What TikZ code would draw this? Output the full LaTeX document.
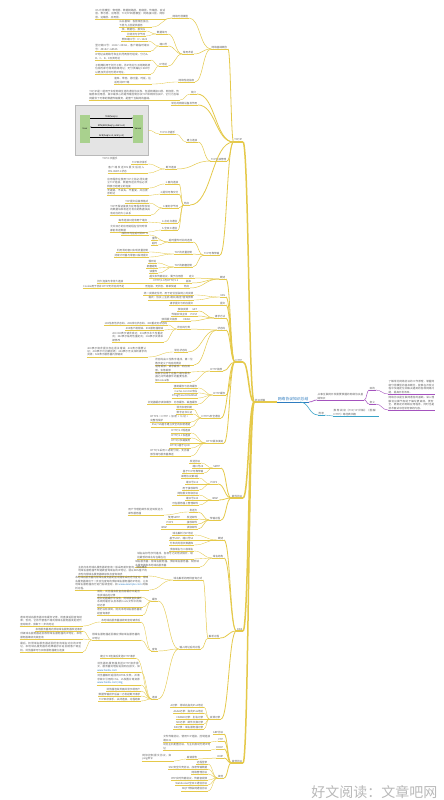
\documentclass[tikz,border=0pt]{standalone}
\usepackage{fontspec}
\setmainfont{Noto Sans CJK SC}
\XeTeXlinebreaklocale "zh"
\XeTeXlinebreakskip=0pt plus 1pt
\usetikzlibrary{arrows.meta,calc}
\definecolor{lemon}{HTML}{E5C94A}
\definecolor{plum}{HTML}{A553BE}
\definecolor{sky}{HTML}{3AA3C8}
\definecolor{core}{HTML}{2E7CC0}
\definecolor{ink}{HTML}{5E5E5E}
\definecolor{sheet}{HTML}{E4E4E4}
\definecolor{grass}{HTML}{A9D18E}
\newcommand{\lf}{\fontsize{2.6}{3.4}\selectfont}
\newcommand{\lnk}[1]{\textcolor{core}{#1}}

\begin{document}
\begin{tikzpicture}[x=1pt, y=-1pt, >={Stealth[length=1.2pt]},
  ul/.style 2 args={font=\lf, text=ink, inner sep=.5pt, anchor=south east, align=left,
    append after command={(\tikzlastnode.south west) edge[draw=#1, line width=#2pt] (\tikzlastnode.south east)}},
  tp/.style={ul={lemon}{.35}},
  lv4/.style={ul={lemon}{.5}},
  lv3/.style={ul={lemon}{.8}},
  lv2/.style={ul={lemon}{1.4}},
  tw/.style={text width=#1pt},
  br/.style={draw=lemon, line width=#1pt, to path={let \p1=(\tikztostart), \p2=(\tikztotarget) in
    .. controls ({(\x1+\x2)/2},\y1) and ({(\x1+\x2)/2},\y2) .. (\tikztotarget)}},
  br/.default=.35,
  pic/.style={fill=grass, minimum width=10pt, minimum height=28pt, inner sep=0pt, font=\fontsize{2.2}{2.6}\selectfont},
  msg/.style={above=-.3pt, inner sep=.4pt, font=\fontsize{2.3}{2.6}\selectfont}]
\useasboundingbox (0,0) rectangle (444,800);
\path[fill=white] (0,0) rectangle (444,800);

\node[ul={core}{.7}, font=\fontsize{3.8}{4.6}\selectfont, text=core] (hub) at (309,402) {网络协议知识总结};
\node[ul={plum}{.5}, anchor=south west, tw=46] (why) at (317,400) {从事互联网开发需要掌握的网络协议基础知识};
\node[ul={plum}{.45}, anchor=south west] (aim) at (369,390) {目的};
\node[ul={plum}{.45}, anchor=south west] (use) at (369,404) {意义};
\node[ul={plum}{.35}, anchor=south west, tw=46] (aimx) at (388,394) {了解常见网络协议的工作原理，掌握网络分层模型的基本概念，能够在开发过程中快速定位并解决遇到的各种网络问题，提高开发效率。};
\node[ul={plum}{.35}, anchor=south west, tw=46] (usex) at (388,410) {网络协议是互联网通信的基础，深入理解协议细节有助于编写更高效、更安全、更稳定的网络应用程序，同时也是技术面试中经常考察的内容。};
\node[ul={sky}{.45}, anchor=south west] (app) at (318,415) {附录};
\node[ul={sky}{.35}, anchor=south west, tw=45] (appx) at (333,416) {推荐阅读《TCP/IP详解》《图解HTTP》等经典书籍};
\draw[br=.7, draw=plum] (hub.south east) to (why.south west);
\draw[br=.5, draw=plum] (why.south east) to (aim.south west);
\draw[br=.5, draw=plum] (why.south east) to (use.south west);
\draw[br=.4, draw=plum] (aim.south east) to (aimx.south west);
\draw[br=.4, draw=plum] (use.south east) to (usex.south west);
\draw[br=.6, draw=sky] ([xshift=-9pt]hub.south east) to (app.south west);
\draw[br=.4, draw=sky] (app.south east) to (appx.south west);

\node[ul={lemon}{1.8}] (root) at (266,402) {协议详解};
\draw[br=1.8] (hub.south west) to (root.south east);
\node[lv2] (tcp) at (243,142) {TCP/IP};
\node[lv2] (http) at (243,362) {HTTP};
\node[lv2] (mail) at (243,498) {邮件协议};
\node[lv2] (dns) at (243,631) {DNS};
\node[lv2] (misc) at (243,763) {其他协议};
\foreach \c in {tcp,http,mail,dns,misc} \draw[br=1.5] (root.south west) to (\c.south east);

\node[lv3] (t1) at (228,49) {网络基础概念};
\node[lv3] (t2) at (197,94) {简介};
\node[lv3] (t3) at (198,105) {常见的网络设备及作用};
\node[lv3] (t4) at (227,161) {TCP连接管理};
\node[lv3] (t5) at (190,205) {特点};
\node[lv3] (t6) at (220,255) {TCP可靠传输};
\foreach \c in {t1,t2,t3,t4,t5,t6} \draw[br=.8] (tcp.south west) to (\c.south east);
\node[lv4] (t11) at (189,18) {网络分层模型};
\node[lv4] (t12) at (194,54) {常用术语};
\node[lv4] (t13) at (195,82) {网络性能指标};
\foreach \c in {t11,t12,t13} \draw[br=.5] (t1.south west) to (\c.south east);
\node[tp, tw=70] (t11a) at (166,19) {OSI七层模型：物理层、数据链路层、网络层、传输层、会话层、表示层、应用层；TCP/IP四层模型：网络接口层、网际层、运输层、应用层。};
\node[tp, tw=32] (t11b) at (152,27) {从业基础：各层相互独立，下层为上层提供服务};
\foreach \c in {t11a,t11b} \draw[br] (t11.south west) to (\c.south east);
\node[lv4] (t121) at (168,34) {数据单元};
\node[lv4] (t122) at (168,46) {端口号};
\node[lv4] (t123) at (168,66) {IP地址};
\foreach \c in {t121,t122,t123} \draw[br=.45] (t12.south west) to (\c.south east);
\node[tp] (t121a) at (146,31) {帧、数据包、报文段};
\node[tp] (t121b) at (146,36) {比特流与字节流};
\foreach \c in {t121a,t121b} \draw[br] (t121.south west) to (\c.south east);
\node[tp] (t122a) at (148,41) {熟知端口号：0～1023};
\node[tp, tw=55] (t122b) at (151,51) {登记端口号：1024～49151，客户端临时端口号：49152～65535};
\foreach \c in {t122a,t122b} \draw[br] (t122.south west) to (\c.south east);
\node[tp, tw=55] (t123a) at (151,60) {IP地址由网络号和主机号两部分组成，分为A、B、C、D、E五类地址};
\node[tp, tw=55] (t123b) at (151,74) {子网掩码用于划分子网，将IP地址与子网掩码按位相与即可得到网络地址；无分类编址CIDR可以更加灵活地分配IP地址。};
\foreach \c in {t123a,t123b} \draw[br] (t123.south west) to (\c.south east);
\node[tp, tw=37] (t13a) at (152,84) {速率、带宽、吞吐量、时延、往返时间RTT等};
\draw[br] (t13.south west) to (t13a.south east);
\node[tp, tw=90] (t2a) at (180,100) {TCP/IP是一组用于实现网络互连的通信协议族，包括网络接口层、网际层、传输层和应用层，其中最核心的是传输控制协议TCP和网际协议IP，它们为互联网提供了可靠的数据传输服务，是整个互联网的基础。};
\draw[br] (t2.south west) to (t2a.south east);

\node[lv4] (t41) at (198,142) {建立连接};
\node[lv4] (t42) at (177,169) {断开连接};
\foreach \c in {t41,t42} \draw[br=.5] (t4.south west) to (\c.south east);
\node[tp] (t41a) at (176,134) {TCP三次握手};
\draw[br] (t41.south west) to (t41a.south east);
\node[tp] (t42a) at (148,164) {TCP四次挥手};
\node[tp, tw=39] (t42b) at (148,173) {客户端发送FIN报文后进入FIN-WAIT-1状态};
\foreach \c in {t42a,t42b} \draw[br] (t42.south west) to (\c.south east);
\node[draw=gray!55, fill=sheet, minimum width=73pt, minimum height=50pt, inner sep=0pt, anchor=north west] (fig) at (75,105) {};
\node[pic] (usr) at (85,129) {User};
\node[pic] (srv) at (138,129) {Server};
\draw[->, line width=.3pt] ($(usr.east)+(0,-11)$) -- node[msg] (syn) {SYN(Seq=x)} ($(srv.west)+(0,-11)$);
\draw[->, line width=.3pt] ($(srv.west)+(0,-2)$) -- node[msg] (sack) {SYN/ACK(Seq=y, Ack=x+1)} ($(usr.east)+(0,-2)$);
\draw[->, line width=.3pt] ($(usr.east)+(0,8)$) -- node[msg] (ack) {ACK(Seq=x+1, Ack=y+1)} ($(srv.west)+(0,8)$);
\node[font=\lf, text=ink] (cap) at (110,158.5) {TCP三次握手};
\draw[br] (t41a.south west) to (fig.east);

\node[lv4] (t51) at (179,184) {1.面向连接};
\node[lv4] (t52) at (179,194) {2.提供可靠交付};
\node[lv4] (t53) at (179,208) {3.面向字节流};
\node[lv4] (t54) at (178,223) {4.点对点通信};
\node[lv4] (t55) at (178,230) {5.全双工通信};
\foreach \c in {t51,t52,t53,t54,t55} \draw[br=.5] (t5.south west) to (\c.south east);
\node[tp, tw=41] (t51a) at (149,188) {应用程序在使用TCP之前必须先建立TCP连接，数据传送完毕后必须释放已经建立的连接};
\draw[br] (t51.south west) to (t51a.south east);
\node[tp, tw=41] (t52a) at (149,195.5) {无差错、不丢失、不重复，并且按序到达};
\draw[br] (t52.south west) to (t52a.south east);
\node[tp] (t53a) at (149,203) {TCP报文段首部格式};
\node[tp, tw=40] (t53b) at (151,215) {TCP不保证接收方应用程序所收到的数据块和发送方发出的数据块具有对应的大小关系};
\foreach \c in {t53a,t53b} \draw[br] (t53.south west) to (\c.south east);
\node[tp] (t54a) at (148,222) {每条连接只能有两个端点};
\draw[br] (t54.south west) to (t54a.south east);
\node[tp, tw=37] (t55a) at (148,232) {允许双方的应用进程在任何时候都能发送数据};
\draw[br] (t55.south west) to (t55a.south east);

\node[lv4] (t61) at (193,242) {超时重传时间的选择};
\node[lv4] (t62) at (193,254) {TCP的流量控制};
\node[lv4] (t63) at (193,267) {TCP的拥塞控制};
\foreach \c in {t61,t62,t63} \draw[br=.5] (t6.south west) to (\c.south east);
\node[tp] (t61a) at (149,235) {加权平均往返时间RTTs};
\node[tp] (t61b) at (158,240) {重传};
\node[tp] (t61c) at (158,245) {超时};
\foreach \c in {t61a,t61b,t61c} \draw[br] (t61.south west) to (\c.south east);
\node[tp] (t62a) at (149,252) {利用滑动窗口实现流量控制};
\node[tp] (t62b) at (149,257) {持续计时器与零窗口探测报文};
\foreach \c in {t62a,t62b} \draw[br] (t62.south west) to (\c.south east);
\node[tp] (t63a) at (157,263) {慢开始};
\node[tp] (t63b) at (158,268) {拥塞避免};
\node[tp] (t63c) at (158,273) {快重传};
\foreach \c in {t63a,t63b,t63c} \draw[br] (t63.south west) to (\c.south east);

\node[lv3] (h1) at (226,279) {概述};
\node[lv3] (h2) at (226,297) {URL};
\node[lv3] (h3) at (226,305) {报文};
\node[lv3] (h4) at (226,318) {请求方法};
\node[lv3] (h5) at (226,330) {状态码};
\node[lv3] (h6) at (223,371) {HTTP首部};
\node[lv3] (h7) at (226,395) {HTTP缓存};
\node[lv3] (h8) at (221,418) {HTTPS安全通信};
\node[lv3] (h9) at (224,443) {HTTP版本演进};
\foreach \c in {h1,h2,h3,h4,h5,h6,h7,h8,h9} \draw[br=.8] (http.south west) to (\c.south east);
\node[lv4] (h11) at (195,278) {定义};
\node[lv4] (h12) at (192,283) {版本};
\node[lv4] (h13) at (190,288) {特点};
\foreach \c in {h11,h12,h13} \draw[br=.5] (h1.south west) to (\c.south east);
\node[tp] (h11a) at (184,278) {超文本传输协议，属于应用层};
\draw[br] (h11.south west) to (h11a.south east);
\node[tp] (h12a) at (179,283) {HTTP/1.0与HTTP/1.1};
\node[tp] (h12b) at (124,283) {持久连接与非持久连接};
\draw[br] (h12.south west) to (h12a.south east);
\draw[br] (h12a.south west) to (h12b.south east);
\node[tp] (h13a) at (177,288) {无连接、无状态、简单快速};
\node[tp] (h13b) at (125,288) {Cookie用于弥补HTTP无状态的不足};
\draw[br] (h13.south west) to (h13a.south east);
\draw[br] (h13a.south west) to (h13b.south east);
\node[tp] (h21) at (194,295) {统一资源定位符，用于定位互联网上的资源};
\node[tp] (h22) at (194,300) {格式：协议://主机:端口/路径?查询参数};
\foreach \c in {h21,h22} \draw[br] (h2.south west) to (\c.south east);
\node[tp] (h31) at (194,305) {请求报文与响应报文};
\draw[br] (h3.south west) to (h31.south east);
\node[lv4] (h41) at (198,311) {GET};
\node[lv4] (h42) at (198,316) {POST};
\node[lv4] (h43) at (191,321) {HEAD};
\foreach \c in {h41,h42,h43} \draw[br=.5] (h4.south west) to (\c.south east);
\node[tp] (h41a) at (189,311) {获取资源};
\node[tp] (h42a) at (188,316) {传输实体主体};
\node[tp] (h43a) at (178,321) {获得报文首部};
\draw[br] (h41.south west) to (h41a.south east);
\draw[br] (h42.south west) to (h42a.south east);
\draw[br] (h43.south west) to (h43a.south east);
\node[lv4] (h51) at (191,329) {状态码分类};
\node[lv4] (h52) at (188,352) {常见状态码};
\node[tp, tw=38] (h53) at (194,365) {状态码由三位数字组成，第一位数字定义了响应的类别};
\foreach \c in {h51,h52,h53} \draw[br=.5] (h5.south west) to (\c.south east);
\node[tp] (h51a) at (168,325) {1XX信息性状态码、2XX成功状态码、3XX重定向状态码};
\node[tp] (h51b) at (164,330) {4XX客户端错误、5XX服务器错误};
\node[tp, tw=51] (h51c) at (164,342) {200 OK表示请求成功；301表示永久性重定向；302表示临时性重定向；304表示资源未被修改};
\foreach \c in {h51a,h51b,h51c} \draw[br] (h51.south west) to (\c.south east);
\node[tp, tw=60] (h52a) at (148,357) {400表示请求报文存在语法错误；401表示需要认证；403表示访问被拒绝；404表示无法找到请求的资源；500表示服务器内部错误};
\draw[br] (h52.south west) to (h52a.south east);
\node[tp, tw=35] (h61) at (191,372) {通用首部、请求首部、响应首部、实体首部};
\node[tp, tw=35] (h62) at (191,382) {首部字段用于在客户端与服务器之间传递额外的重要信息，如Cookie等};
\foreach \c in {h61,h62} \draw[br] (h6.south west) to (\c.south east);
\node[tp] (h71) at (198,388) {强制缓存与协商缓存};
\node[tp] (h72) at (198,393) {Cache-Control字段};
\node[tp] (h73) at (198,398) {ETag与Last-Modified};
\node[tp] (h74) at (198,404) {浏览器缓存读取顺序：内存缓存、磁盘缓存};
\foreach \c in {h71,h72,h73,h74} \draw[br] (h7.south west) to (\c.south east);
\node[tp] (h81) at (193,409) {混合加密机制};
\node[tp] (h82) at (193,414) {数字证书认证};
\node[tp, tw=40] (h83) at (191,422) {HTTPS = HTTP + 加密 + 认证 + 完整性保护};
\node[tp] (h84) at (191,427) {SSL/TLS握手建立安全的加密通道};
\foreach \c in {h81,h82,h83,h84} \draw[br] (h8.south west) to (\c.south east);
\node[tp] (h91) at (191,433) {HTTP/1.0短连接};
\node[tp] (h92) at (191,438) {HTTP/1.1长连接};
\node[tp] (h93) at (191,443) {HTTP/2多路复用};
\node[tp] (h94) at (191,448) {HTTP/3基于QUIC};
\node[tp, tw=40] (h95) at (191,456) {HTTP/2采用二进制分帧，支持首部压缩与服务器推送};
\foreach \c in {h91,h92,h93,h94,h95} \draw[br] (h9.south west) to (\c.south east);

\node[lv3] (m1) at (221,468) {SMTP};
\node[lv3] (m2) at (218,484) {POP3};
\node[lv3] (m3) at (219,500) {IMAP};
\node[lv3] (m4) at (221,520) {传输过程};
\foreach \c in {m1,m2,m3,m4} \draw[br=.8] (mail.south west) to (\c.south east);
\node[tp] (m11) at (201,463) {发送协议};
\node[tp] (m12) at (204,468) {端口号25};
\node[tp] (m13) at (204,473) {基于TCP可靠传输};
\foreach \c in {m11,m12,m13} \draw[br] (m1.south west) to (\c.south east);
\node[tp] (m21) at (199,478) {邮局协议第3版};
\node[tp] (m22) at (199,484) {端口号110};
\node[tp] (m23) at (199,490) {用于接收邮件};
\foreach \c in {m21,m22,m23} \draw[br] (m2.south west) to (\c.south east);
\node[tp] (m31) at (199,495) {网际报文存取协议};
\node[tp] (m32) at (199,500) {端口号143};
\node[tp] (m33) at (199,505) {可在服务器上管理邮件};
\foreach \c in {m31,m32,m33} \draw[br] (m3.south west) to (\c.south east);
\node[lv4] (m41) at (198,512) {发送方};
\node[lv4] (m42) at (198,519) {发送邮件};
\node[lv4] (m43) at (198,524) {接收邮件};
\node[lv4] (m44) at (198,529) {读取邮件};
\foreach \c in {m41,m42,m43,m44} \draw[br=.5] (m4.south west) to (\c.south east);
\node[tp, tw=35] (m41a) at (164,515) {用户代理把邮件发送到发送方邮件服务器};
\node[tp] (m42a) at (181,519) {使用SMTP};
\node[tp] (m43a) at (174,524) {POP3};
\node[tp] (m44a) at (168,529) {IMAP};
\draw[br] (m41.south west) to (m41a.south east);
\draw[br] (m42.south west) to (m42a.south east);
\draw[br] (m43.south west) to (m43a.south east);
\draw[br] (m44.south west) to (m44a.south east);

\node[lv3] (d1) at (224,540) {概述};
\node[lv3] (d2) at (224,558) {域名结构};
\node[lv3] (d3) at (220,638) {解析过程};
\node[lv3] (d4) at (221,719) {资源记录};
\foreach \c in {d1,d2,d3,d4} \draw[br=.8] (dns.south west) to (\c.south east);
\node[tp] (d11) at (194,535) {域名解析为IP地址};
\node[tp] (d12) at (194,540) {基于UDP，端口号53};
\node[tp] (d13) at (194,545) {分布式的层次数据库};
\foreach \c in {d11,d12,d13} \draw[br] (d1.south west) to (\c.south east);
\node[tp] (d21) at (194,551) {顶级域名与二级域名};
\node[tp, tw=56] (d22) at (194,559) {域名由标号序列组成，各标号之间用点隔开，级别最低的域名写在最左边};
\node[tp, tw=64] (d23) at (200,567) {域名服务器：根域名服务器、顶级域名服务器、权限域名服务器和本地域名服务器};
\foreach \c in {d21,d22,d23} \draw[br] (d2.south west) to (\c.south east);
\node[lv4] (d31) at (203,580) {域名解析的两种查询方式};
\node[lv4] (d32) at (201,649) {输入网址后的过程};
\foreach \c in {d31,d32} \draw[br=.5] (d3.south west) to (\c.south east);
\node[tp, tw=69] (d31a) at (148,576) {主机向本地域名服务器的查询一般采用递归查询，即如果本地域名服务器不知道被查询域名的IP地址，就以DNS客户的身份向根域名服务器继续发出查询请求};
\node[tp, tw=73] (d31b) at (149,590) {本地域名服务器向根域名服务器的查询通常采用迭代查询，根域名服务器给出下一步应当查询的顶级域名服务器的IP地址，让本地域名服务器自行进行后续查询，如 \lnk{www.example.com} 的解析过程。};
\foreach \c in {d31a,d31b} \draw[br] (d31.south west) to (\c.south east);
\node[lv4] (d321) at (158,601) {缓存};
\node[lv4] (d322) at (158,651) {查询};
\node[lv4] (d323) at (158,699) {连接};
\foreach \c in {d321,d322,d323} \draw[br=.45] (d32.south west) to (\c.south east);
\node[tp, tw=43] (d321a) at (141,597) {首先，浏览器会检查自身缓存中是否有该域名的记录};
\node[tp, tw=45] (d321b) at (143,607) {若浏览器缓存中没有，则继续查找操作系统的缓存以及本机hosts文件中的映射记录};
\node[tp, tw=45] (d321c) at (143,615) {若仍没有找到，则向本地域名服务器发起查询请求};
\foreach \c in {d321a,d321b,d321c} \draw[br] (d321.south west) to (\c.south east);
\node[tp] (d3221) at (141,622) {本地域名服务器接收到查询请求后};
\node[tp, tw=48] (d3222) at (141,640) {根域名服务器返回相应顶级域名服务器的IP地址};
\foreach \c in {d3221,d3222} \draw[br] (d322.south west) to (\c.south east);
\node[tp, tw=62] (d3221a) at (83,626) {若本地域名服务器中有缓存记录，则直接返回查询结果；否则，它将代替客户端向根域名服务器发起迭代查询请求，获取下一步的地址};
\draw[br] (d3221.south west) to (d3221a.south east);
\node[tp] (d3222a) at (83,631) {本地服务器再向顶级域名服务器发送请求};
\node[tp, tw=62] (d3222b) at (83,639) {顶级域名服务器返回权限域名服务器的IP地址，本地服务器继续向其查询};
\node[tp, tw=62] (d3222c) at (83,652) {最后，权限域名服务器返回所查询域名对应的IP地址，本地域名服务器将结果缓存并返回给客户端主机，浏览器即可与目标服务器建立连接};
\foreach \c in {d3222a,d3222b,d3222c} \draw[br] (d3222.south west) to (\c.south east);
\node[tp] (d323a) at (136,658) {建立TCP连接后发送HTTP请求};
\node[tp, tw=43] (d323b) at (141,672) {浏览器向服务器发送HTTP请求报文，服务器处理后返回响应报文，如 \lnk{www.baidu.com}};
\node[tp, tw=43] (d323c) at (141,685) {浏览器解析返回的HTML文档，并请求其中引用的CSS、JS及图片等资源 \lnk{www.baidu.com/img}};
\node[tp] (d323d) at (141,691) {浏览器渲染页面并显示给用户};
\node[tp] (d323e) at (141,696) {数据传输完毕后由一方发起断开请求};
\node[tp] (d323f) at (141,701) {TCP四次挥手，关闭连接，过程结束};
\foreach \c in {d323a,d323b,d323c,d323d,d323e,d323f} \draw[br] (d323.south west) to (\c.south east);
\node[tp] (d41) at (204,707) {A记录：将域名指向IPv4地址};
\node[tp] (d42) at (204,713) {AAAA记录：指向IPv6地址};
\node[tp] (d43) at (204,719) {CNAME记录：别名记录};
\node[tp] (d44) at (204,724) {MX记录：邮件交换记录};
\node[tp] (d45) at (204,729) {NS记录：域名服务器记录};
\foreach \c in {d41,d42,d43,d44,d45} \draw[br] (d4.south west) to (\c.south east);

\node[lv3] (o1) at (224,734) {ARP协议};
\node[lv3] (o2) at (224,741) {FTP};
\node[lv3] (o3) at (224,749) {DHCP};
\node[lv3] (o4) at (224,758) {ICMP};
\node[lv3] (o5) at (224,778) {其他};
\foreach \c in {o1,o2,o3,o4,o5} \draw[br=.8] (misc.south west) to (\c.south east);
\node[tp, tw=47] (o2a) at (211,742) {文件传输协议，使用TCP连接，控制连接端口21};
\draw[br] (o2.south west) to (o2a.south east);
\node[tp, tw=47] (o3a) at (211,750) {动态主机配置协议，为主机自动分配IP地址};
\draw[br] (o3.south west) to (o3a.south east);
\node[lv4] (o4a) at (198,759) {差错报告};
\node[tp, tw=31] (o4b) at (174,761) {网际控制报文协议，如ping命令};
\draw[br=.5] (o4.south west) to (o4a.south east);
\draw[br] (o4a.south west) to (o4b.south east);
\node[tp] (o51) at (208,764) {远程登录};
\node[tp] (o52) at (208,769) {SSH安全外壳协议，加密传输数据};
\node[tp] (o53) at (208,774) {网络管理协议};
\node[tp] (o54) at (208,780) {RTP实时传输协议，传输音视频};
\node[tp] (o55) at (208,785) {WebSocket全双工通信协议};
\node[tp] (o56) at (208,791) {MQTT物联网通信协议};
\foreach \c in {o51,o52,o53,o54,o55,o56} \draw[br] (o5.south west) to (\c.south east);

\node[font=\fontsize{14}{14}\selectfont, text=gray!55, anchor=east] (mark) at (441,792) {好文阅读：文章吧网};
\end{tikzpicture}
\end{document}
